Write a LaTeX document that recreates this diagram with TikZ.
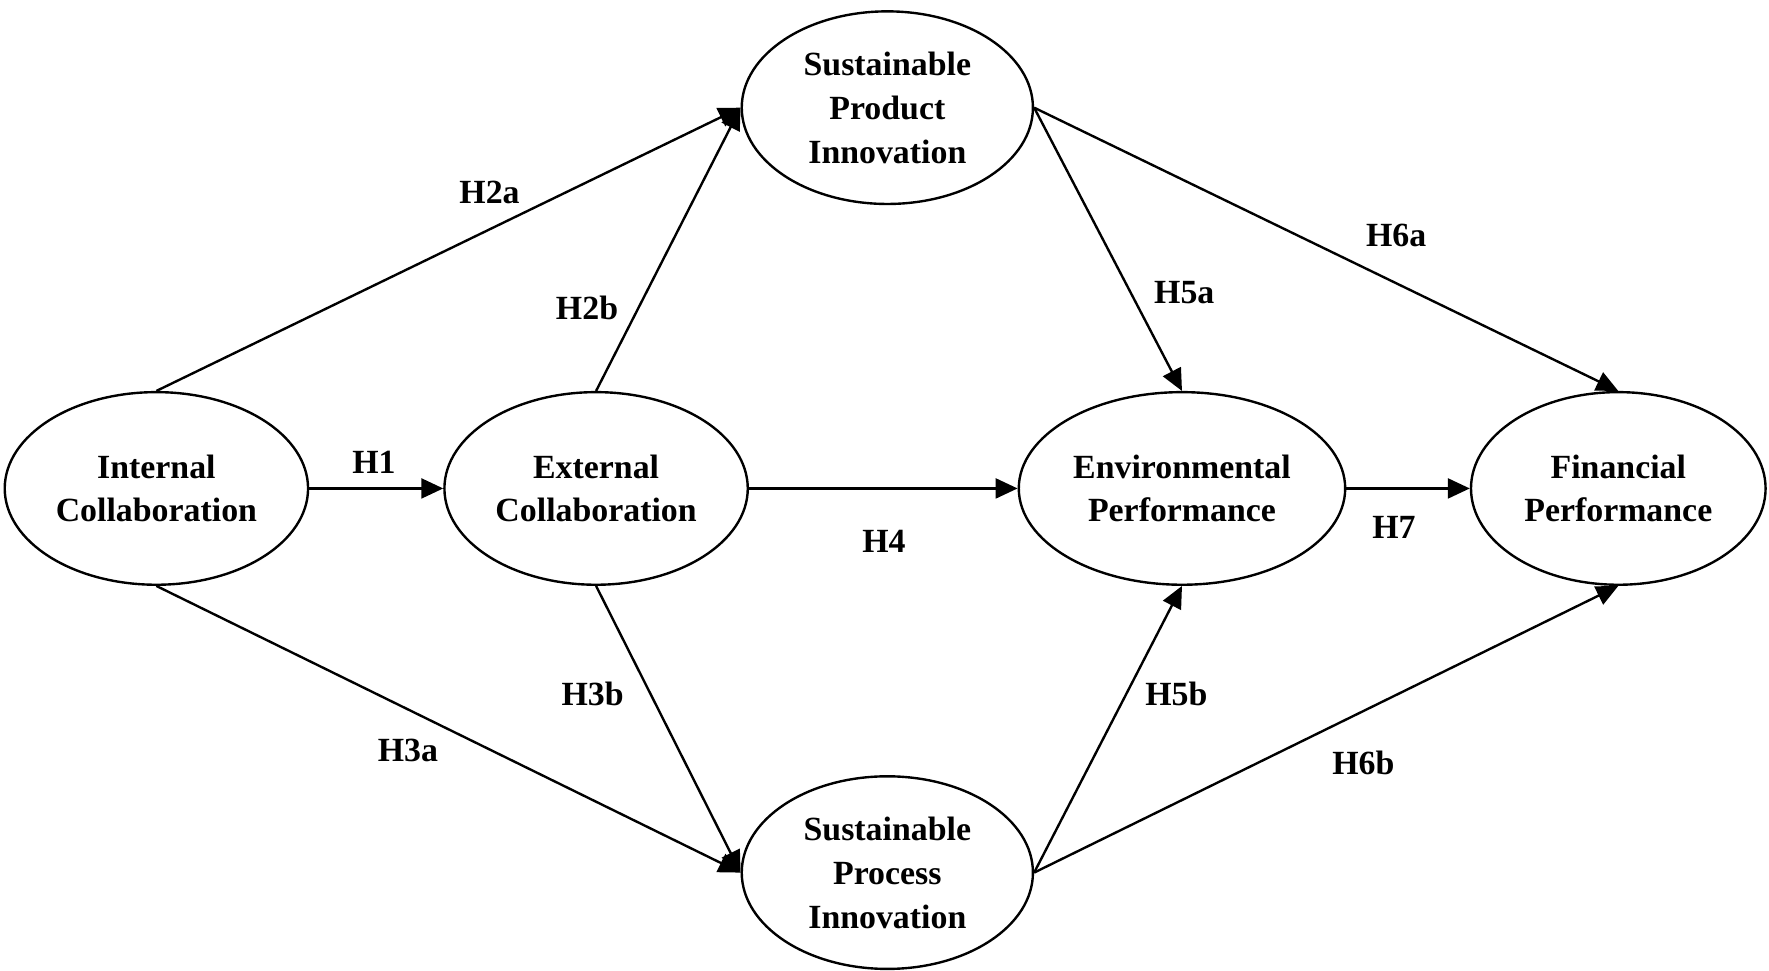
\documentclass[tikz,border=0pt]{standalone}
\usepackage{fontspec}
\setmainfont{Liberation Serif}
\usetikzlibrary{shapes.geometric,arrows.meta}
\begin{document}
\begin{tikzpicture}[x=0.02cm,y=-0.02cm,
  ell/.style={draw,line width=1.2pt,ellipse,minimum width=5.2cm,minimum height=3.4cm,align=center,font=\fontsize{17}{22}\selectfont\bfseries},
  arr/.style={line width=1.2pt,-{Triangle[length=11pt,width=10pt]}},
  lab/.style={font=\fontsize{17}{20}\selectfont\bfseries}]
\useasboundingbox (0,0) rectangle (1561,856);
\node[ell] (ic) at (138,431) {Internal\\Collaboration};
\node[ell] (ec) at (526,431) {External\\Collaboration};
\node[ell,minimum width=5.14cm] (pd) at (783,95) {Sustainable\\Product\\Innovation};
\node[ell] (ep) at (1043,431) {Environmental\\Performance};
\node[ell] (fp) at (1428,431) {Financial\\Performance};
\node[ell,minimum width=5.14cm] (pc) at (783,770) {Sustainable\\Process\\Innovation};
\draw[arr] (ic.north) -- (pd.west);
\draw[arr] (ec.north) -- (pd.west);
\draw[arr] (ic.east) -- (ec.west);
\draw[arr] (ec.east) -- (ep.west);
\draw[arr] (pd.east) -- (ep.north);
\draw[arr] (pd.east) -- (fp.north);
\draw[arr] (ep.east) -- (fp.west);
\draw[arr] (ic.south) -- (pc.west);
\draw[arr] (ec.south) -- (pc.west);
\draw[arr] (pc.east) -- (ep.south);
\draw[arr] (pc.east) -- (fp.south);
\node[lab] (l1) at (330,408) {H1};
\node[lab] (l2a) at (432,170) {H2a};
\node[lab] (l2b) at (518,272) {H2b};
\node[lab] (l3a) at (360,662) {H3a};
\node[lab] (l3b) at (523,612) {H3b};
\node[lab] (l4) at (780,478) {H4};
\node[lab] (l5a) at (1045,258) {H5a};
\node[lab] (l5b) at (1038,612) {H5b};
\node[lab] (l6a) at (1232,208) {H6a};
\node[lab] (l6b) at (1203,673) {H6b};
\node[lab] (l7) at (1230,465) {H7};
\end{tikzpicture}
\end{document}
